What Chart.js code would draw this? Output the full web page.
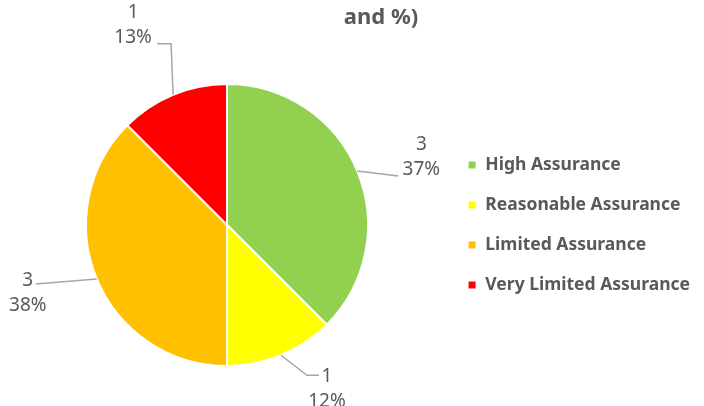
<!DOCTYPE html>
<html>
<head>
<meta charset="utf-8">
<script src="https://cdn.jsdelivr.net/npm/chart.js@4/dist/chart.umd.min.js"></script>
<style>
  html, body { margin: 0; padding: 0; background: #fff; }
  #wrap { width: 704px; height: 406px; }
</style>
</head>
<body>
<div id="wrap"><canvas id="assurance"></canvas></div>
<script>
const categories = ['High Assurance', 'Reasonable Assurance', 'Limited Assurance', 'Very Limited Assurance'];
const counts = [3, 1, 3, 1];
const percentLabels = ['37%', '12%', '38%', '13%'];
const sliceColors = ['#92D050', '#FFFF00', '#FFC000', '#FF0000'];
const titleText = 'and %)';

const textColor = '#595959';
const fontFamily = '"Noto Sans", "Open Sans", sans-serif';

// callouts were dragged by hand in the original, so offsets are from the slice's edge point
const callouts = [
  { line: [[0, 0], [41, 5]], text: [64, -26] },
  { line: [[0, 0], [26, 20], [38, 20]], text: [46, 21] },
  { line: [[0, 0], [-61, 5]], text: [-69, 2] },
  { line: [[0, 0], [-2, -51], [-16, -51]], text: [-40, -82] }
];

const calloutPlugin = {
  id: 'callouts',
  afterDatasetsDraw(chart) {
    const ctx = chart.ctx;
    const meta = chart.getDatasetMeta(0);
    ctx.save();
    meta.data.forEach((arc, i) => {
      const { x, y, startAngle, endAngle, outerRadius } = arc.getProps(['x', 'y', 'startAngle', 'endAngle', 'outerRadius'], true);
      const mid = (startAngle + endAngle) / 2;
      const ex = x + Math.cos(mid) * outerRadius;
      const ey = y + Math.sin(mid) * outerRadius;
      const c = callouts[i];
      ctx.strokeStyle = '#A6A6A6';
      ctx.lineWidth = 1.5;
      ctx.beginPath();
      c.line.forEach(([dx, dy], k) => {
        if (k === 0) ctx.moveTo(ex + dx, ey + dy);
        else ctx.lineTo(ex + dx, ey + dy);
      });
      ctx.stroke();
      ctx.fillStyle = textColor;
      ctx.font = '19px ' + fontFamily;
      ctx.textAlign = 'center';
      ctx.textBaseline = 'middle';
      ctx.fillText(String(counts[i]), ex + c.text[0], ey + c.text[1]);
      ctx.fillText(percentLabels[i], ex + c.text[0], ey + c.text[1] + 25);
    });
    ctx.restore();
  }
};

const titlePlugin = {
  id: 'cutTitle',
  afterDraw(chart) {
    const ctx = chart.ctx;
    ctx.save();
    ctx.fillStyle = textColor;
    ctx.font = 'bold 22px ' + fontFamily;
    ctx.textAlign = 'center';
    ctx.textBaseline = 'middle';
    ctx.fillText(titleText, 381, 18);
    ctx.restore();
  }
};

const ctx = document.getElementById('assurance').getContext('2d');
new Chart(ctx, {
  type: 'pie',
  data: {
    labels: categories,
    datasets: [{
      data: counts,
      backgroundColor: sliceColors,
      borderColor: '#ffffff',
      borderWidth: 2
    }]
  },
  options: {
    responsive: true,
    maintainAspectRatio: false,
    animation: false,
    layout: { padding: { left: 9, right: 4, top: 83, bottom: 39 } },
    plugins: {
      tooltip: { enabled: false },
      title: { display: false },
      legend: {
        position: 'right',
        align: 'center',
        labels: {
          color: textColor,
          font: { family: fontFamily, size: 17.5, weight: 'bold' },
          boxWidth: 9,
          boxHeight: 9,
          padding: 22.5
        }
      }
    }
  },
  plugins: [calloutPlugin, titlePlugin]
});
</script>
</body>
</html>
